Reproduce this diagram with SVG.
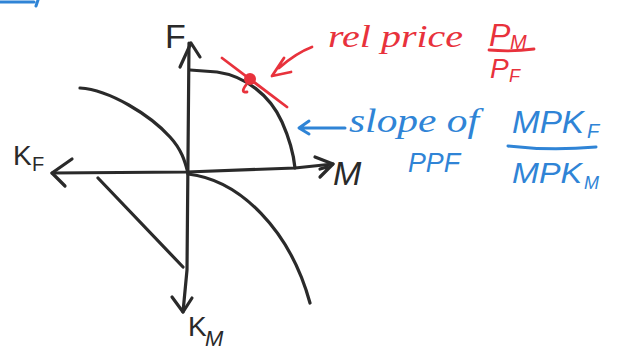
<svg xmlns="http://www.w3.org/2000/svg" width="625" height="355" viewBox="0 0 625 355">
<defs>
<style>
.ink{fill:none;stroke:#2a2a2a;stroke-width:3.2;stroke-linecap:round;stroke-linejoin:round}
.red{fill:none;stroke:#e8323c;stroke-width:2.8;stroke-linecap:round;stroke-linejoin:round}
.blue{fill:none;stroke:#2f84d6;stroke-width:3;stroke-linecap:round;stroke-linejoin:round}
.lbl{font-family:"Liberation Sans","DejaVu Sans",sans-serif;fill:#2a2a2a}
.rt{font-family:"Liberation Serif","DejaVu Serif",serif;font-style:italic;fill:#e8323c}
.rs{font-family:"Liberation Sans","DejaVu Sans",sans-serif;font-style:italic;fill:#e8323c}
.bt{font-family:"Liberation Serif","DejaVu Serif",serif;font-style:italic;fill:#2f84d6}
.bs{font-family:"Liberation Sans","DejaVu Sans",sans-serif;font-style:italic;fill:#2f84d6}
</style>
</defs>
<rect width="625" height="355" fill="#ffffff"/>

<!-- cut-off blue scribble at top edge -->
<path class="blue" d="M0,2 L34,2 M38,0 L36,6" stroke-width="2.5"/>

<g id="axes">
  <path class="ink" d="M189,43 L187,270 L183,312"/>
  <path class="ink" d="M180,67 L191,43 L200,57"/>
  <path class="ink" d="M172,297 L183,312 L192,298"/>
  <path class="ink" d="M52,173 L187,172 L295,168 L333,164"/>
  <path class="ink" d="M72,159 L52,173 L65,186"/>
  <path class="ink" d="M315,157 L333,164 L320,177 M320,169 L327,167"/>
</g>

<g id="ppf">
  <path class="ink" d="M190,70 L217,72 C245,76 270,95 282,122 C290,140 294,158 295,168"/>
</g>

<g id="curve-upper-left">
  <path class="ink" d="M80,88 C110,90 150,115 170,137 C182,150 185,162 188,173"/>
</g>

<g id="curve-lower-right">
  <path class="ink" d="M188,174 C240,180 290,230 310,303"/>
</g>

<g id="line-lower-left">
  <path class="ink" d="M98,178 L183,267"/>
</g>

<g id="label-F"><text class="lbl" x="165" y="48" font-size="34">F</text></g>
<g id="label-KF">
  <text class="lbl" x="13" y="165" font-size="28">K</text>
  <text class="lbl" x="32" y="171" font-size="20">F</text>
</g>
<g id="label-M"><text class="lbl" x="333" y="185" font-size="34" font-style="italic">M</text></g>
<g id="label-KM">
  <text class="lbl" x="188" y="336" font-size="28">K</text>
  <text class="lbl" x="205" y="346" font-size="22" font-style="italic">M</text>
</g>

<g id="tangency">
  <path class="red" d="M222,58 L287,107"/>
  <circle cx="250" cy="79" r="6" fill="#e8323c"/>
  <path class="red" d="M246,85 Q240,93 247,92" stroke-width="2"/>
</g>

<g id="rel-price">
  <text class="rt" x="328" y="47" font-size="32" textLength="135" lengthAdjust="spacingAndGlyphs">rel price</text>
  <text class="rs" x="489" y="46" font-size="32">P</text>
  <text class="rs" x="510" y="49" font-size="20">M</text>
  <path class="red" d="M489,50 Q512,52 534,49"/>
  <text class="rs" x="490" y="78" font-size="28">P</text>
  <text class="rs" x="509" y="82" font-size="18">F</text>
</g>

<g id="slope-note">
  <text class="bt" x="349" y="132" font-size="34" textLength="130" lengthAdjust="spacingAndGlyphs">slope of</text>
  <text class="bs" x="408" y="172" font-size="28" textLength="52" lengthAdjust="spacingAndGlyphs">PPF</text>
  <text class="bs" x="512" y="133" font-size="32" textLength="72" lengthAdjust="spacingAndGlyphs">MPK</text>
  <text class="bs" x="587" y="138" font-size="20">F</text>
  <path class="blue" d="M508,146 Q550,151 596,147"/>
  <text class="bs" x="512" y="183" font-size="30" textLength="70" lengthAdjust="spacingAndGlyphs">MPK</text>
  <text class="bs" x="584" y="189" font-size="18">M</text>
</g>

<g id="connectors">
  <path class="red" d="M312,47 Q296,53 279,68 M284,58 L272,76 L291,72"/>
  <path class="blue" d="M345,128 L300,128 M309,121 L299,128 L309,134"/>
</g>
</svg>
